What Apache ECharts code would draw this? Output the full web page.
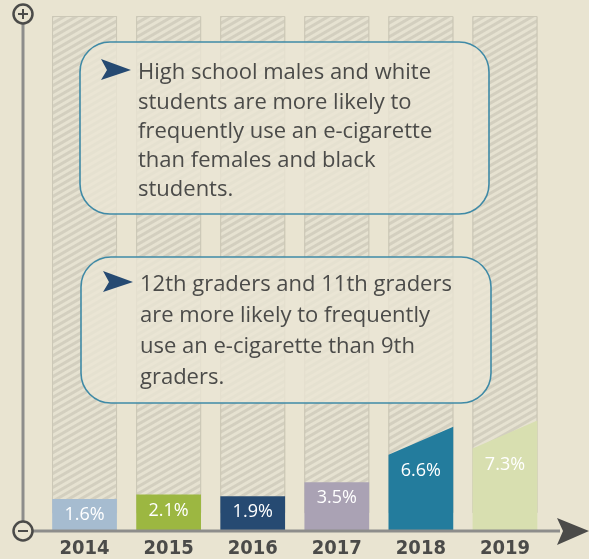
<!DOCTYPE html>
<html>
<head>
<meta charset="utf-8">
<script src="https://cdn.jsdelivr.net/npm/echarts@6/dist/echarts.min.js"></script>
<style>
  html, body { margin: 0; padding: 0; background: #e9e4d1; }
  #chart { width: 589px; height: 559px; }
</style>
</head>
<body>
<div id="chart"></div>
<script>
const years = ["2014", "2015", "2016", "2017", "2018", "2019"];
const rates = [1.6, 2.1, 1.9, 3.5, 6.6, 7.3];
const notes = [
  "High school males and white\nstudents are more likely to\nfrequently use an e-cigarette\nthan females and black\nstudents.",
  "12th graders and 11th graders\nare more likely to frequently\nuse an e-cigarette than 9th\ngraders."
];

// styling
const barColors = ["#a6bcd0", "#9cb741", "#264a72", "#aaa2b4", "#237c9d", "#d8dfb0"];
const slantPx = [0, 0, 0, 0, 28, 28];
const yMin = -2;
const yMax = 56;
const ink = "#4b4b49";
const textFont = "'Open Sans', Lato, sans-serif";

const chart = echarts.init(document.getElementById("chart"));

function renderBar(params, api) {
  const i = api.value(0);
  const top = api.coord([i, api.value(1)]);
  const bottom = params.coordSys.y + params.coordSys.height;
  const w = api.size([1, 0])[0] * 0.77;
  const x0 = top[0] - w / 2;
  const x1 = top[0] + w / 2;
  return {
    type: "group",
    children: [
      {
        type: "polygon",
        shape: { points: [[x0, bottom], [x0, top[1]], [x1, top[1] - slantPx[i]], [x1, bottom]] },
        style: { fill: barColors[i] }
      },
      {
        type: "text",
        style: {
          text: api.value(1) + "%",
          x: top[0], y: top[1] + 16,
          align: "center", verticalAlign: "middle",
          fill: "#ffffff", font: "18px " + textFont
        }
      }
    ]
  };
}

function noteBox(x, y, w, h, text, textX, textY, lineH) {
  return [
    {
      type: "rect",
      shape: { x: x, y: y, width: w, height: h, r: 30 },
      style: { fill: "rgba(234,230,213,0.78)", stroke: "#3f8aa6", lineWidth: 1.6 },
      z: 10
    },
    {
      type: "polygon",
      shape: { points: [[textX - 37, textY - 14], [textX - 7, textY - 3], [textX - 37, textY + 7], [textX - 31, textY - 3]] },
      style: { fill: "#264a72" },
      z: 11
    },
    {
      type: "text",
      style: {
        text: text, x: textX, y: textY - lineH / 2,
        fill: ink, font: "22px " + textFont, lineHeight: lineH,
        verticalAlign: "top"
      },
      z: 11
    }
  ];
}

chart.setOption({
  backgroundColor: "#e9e4d1",
  animation: false,
  grid: { left: 42.5, right: 42, top: 16, bottom: 28 },
  xAxis: {
    type: "category",
    data: years,
    axisLine: { show: false },
    axisTick: { show: false },
    axisLabel: {
      margin: 8,
      color: ink,
      fontSize: 20,
      fontWeight: "bold",
      fontFamily: "'Liberation Sans Narrow', 'DejaVu Sans Condensed', sans-serif"
    }
  },
  yAxis: { type: "value", min: yMin, max: yMax, show: false },
  series: [
    {
      type: "bar",
      data: years.map(() => yMax),
      barWidth: 65,
      silent: true,
      itemStyle: {
        color: "#d3cfbf",
        borderColor: "#ccc8b7",
        borderWidth: 1,
        decal: {
          symbol: "rect",
          symbolSize: 1,
          dashArrayX: [1, 0],
          dashArrayY: [3, 3],
          rotation: -Math.PI / 6,
          color: "#e6e2d1"
        }
      }
    },
    {
      type: "custom",
      data: rates.map((v, i) => [i, v]),
      renderItem: renderBar,
      z: 3
    }
  ],
  graphic: [
    { type: "line", shape: { x1: 23, y1: 24, x2: 23, y2: 521 }, style: { stroke: "#8d8d8b", lineWidth: 3 } },
    { type: "line", shape: { x1: 33, y1: 531, x2: 560, y2: 531 }, style: { stroke: "#8d8d8b", lineWidth: 3 }, z: 5 },
    { type: "circle", shape: { cx: 23, cy: 14, r: 9.5 }, style: { fill: "#e9e4d1", stroke: ink, lineWidth: 2.5 } },
    { type: "line", shape: { x1: 18, y1: 14, x2: 28, y2: 14 }, style: { stroke: ink, lineWidth: 2 } },
    { type: "line", shape: { x1: 23, y1: 9, x2: 23, y2: 19 }, style: { stroke: ink, lineWidth: 2 } },
    { type: "circle", shape: { cx: 23, cy: 531, r: 9.5 }, style: { fill: "#e9e4d1", stroke: ink, lineWidth: 2.5 }, z: 6 },
    { type: "line", shape: { x1: 18, y1: 531, x2: 28, y2: 531 }, style: { stroke: ink, lineWidth: 2 }, z: 7 },
    { type: "polygon", shape: { points: [[557, 518], [589, 531], [557, 545], [563, 531]] }, style: { fill: ink }, z: 6 },
    ...noteBox(80, 42, 409, 172, notes[0], 138, 73, 29.3),
    ...noteBox(81, 257, 410, 146, notes[1], 140, 285, 31)
  ]
});
</script>
</body>
</html>
